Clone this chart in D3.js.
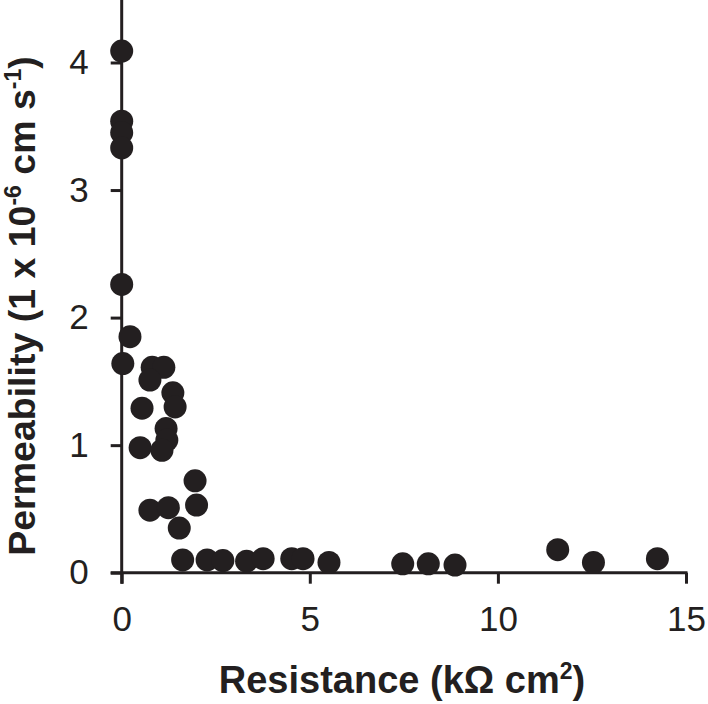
<!DOCTYPE html>
<html>
<head>
<meta charset="utf-8">
<script src="https://cdn.jsdelivr.net/npm/d3@7"></script>
<style>
  html, body { margin: 0; padding: 0; background: #fff; }
  svg { display: block; }
</style>
</head>
<body>
<svg id="chart" width="708" height="704"></svg>
<script>
// Data
const resistance = [0, 0, 0, 0, 0, 0.22, 0.03, 0.81, 1.12, 0.75, 1.36, 1.42, 0.54, 1.18, 1.20, 0.49, 1.07,
  1.95, 1.99, 0.75, 1.24, 1.53, 1.62, 2.27, 2.69, 3.32, 3.76, 4.52, 4.82, 5.51, 7.47, 8.15, 8.86, 11.59, 12.54, 14.24];
const permeability = [4.09, 3.54, 3.45, 3.33, 2.26, 1.85, 1.64, 1.61, 1.61, 1.51, 1.41, 1.30, 1.29, 1.13, 1.04, 0.98, 0.96,
  0.72, 0.53, 0.49, 0.51, 0.35, 0.10, 0.10, 0.095, 0.09, 0.11, 0.11, 0.11, 0.08, 0.07, 0.07, 0.06, 0.18, 0.08, 0.11];
const xTicks = [0, 5, 10, 15];
const yTicks = [0, 1, 2, 3, 4];

const ink = "#231f20";
const font = "Liberation Sans, Arial, sans-serif";
const svg = d3.select("#chart");
const x = d3.scaleLinear().domain([0, 15]).range([121.7, 686]);
const y = d3.scaleLinear().domain([0, 4.49]).range([572.7, 0]);
const tick = 11;

// x axis
const gx = svg.append("g").attr("transform", `translate(0,${y(0)})`)
  .call(d3.axisBottom(x).tickValues(xTicks).tickSize(tick).tickSizeOuter(0).tickPadding(22).tickFormat(d3.format("d")));
gx.select(".domain").remove();
gx.selectAll(".tick line").attr("stroke", ink).attr("stroke-width", 3);
gx.selectAll(".tick text").attr("fill", ink).attr("font-family", font).attr("font-size", 35).attr("dy", "0.71em");
gx.append("line").attr("x1", x(0) - tick).attr("x2", x(15) + 1.5).attr("y1", 0).attr("y2", 0)
  .attr("stroke", ink).attr("stroke-width", 3);

// y axis
const gy = svg.append("g").attr("transform", `translate(${x(0)},0)`)
  .call(d3.axisLeft(y).tickValues(yTicks).tickSize(tick).tickSizeOuter(0).tickPadding(22).tickFormat(d3.format("d")));
gy.select(".domain").remove();
gy.selectAll(".tick line").attr("stroke", ink).attr("stroke-width", 3);
gy.selectAll(".tick text").attr("fill", ink).attr("font-family", font).attr("font-size", 35);
gy.append("line").attr("x1", 0).attr("x2", 0).attr("y1", y(0) + tick).attr("y2", 0)
  .attr("stroke", ink).attr("stroke-width", 3);

// points
svg.append("g").selectAll("circle")
  .data(resistance.map((r, i) => [r, permeability[i]]))
  .join("circle")
  .attr("cx", d => x(d[0]))
  .attr("cy", d => y(d[1]))
  .attr("r", 11.5)
  .attr("fill", ink);

// x title
const xt = svg.append("text")
  .attr("x", 402).attr("y", 693)
  .attr("text-anchor", "middle")
  .attr("font-family", font)
  .attr("font-weight", "bold").attr("font-size", 38).attr("fill", ink);
xt.append("tspan").text("Resistance (kΩ cm");
xt.append("tspan").attr("font-size", 23).attr("dy", -14).text("2");
xt.append("tspan").attr("dy", 14).text(")");

// y title
const yt = svg.append("text")
  .attr("transform", "translate(35,306) rotate(-90)")
  .attr("text-anchor", "middle")
  .attr("font-family", font)
  .attr("font-weight", "bold").attr("font-size", 37.5).attr("fill", ink);
yt.append("tspan").text("Permeability (1 x 10");
yt.append("tspan").attr("font-size", 23).attr("dy", -14).text("-6");
yt.append("tspan").attr("dy", 14).text(" cm s");
yt.append("tspan").attr("font-size", 23).attr("dy", -14).text("-1");
yt.append("tspan").attr("dy", 14).text(")");
</script>
</body>
</html>
